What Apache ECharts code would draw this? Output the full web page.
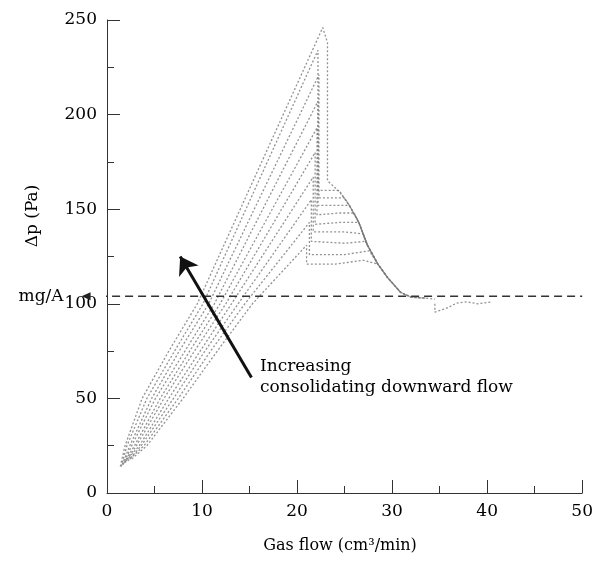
<!DOCTYPE html>
<html>
<head>
<meta charset="utf-8">
<script src="https://cdn.jsdelivr.net/npm/echarts@6/dist/echarts.min.js"></script>
<style>html,body{margin:0;padding:0;background:#fff}#c{width:596px;height:564px}</style>
</head>
<body>
<div id="c"></div>
<script>
// ---- data ----
var xTicks = [0, 10, 20, 30, 40, 50];
var yTicks = [0, 50, 100, 150, 200, 250];
var mgALine = [[-2.2, 104], [50, 104]]; // mg/A reference level (Pa)

var curve1 = [[2.6,18],[4.2,25],[8.0,50],[11.6,75],[15.3,100],[21.0,131],[21.0,121],[24.0,121],[27.0,123],[28.5,121],[29.5,114],[30.9,106],[32.0,103.5],[33.5,103]];
var curve2 = [[2.4,18],[3.9,25],[7.5,50],[10.9,75],[14.5,100],[21.3,143],[21.3,126],[25.0,126],[27.6,128],[28.5,121],[29.5,114],[30.9,106],[32.0,103.5],[33.5,103]];
var curve3 = [[2.2,17],[3.6,25],[7.0,50],[10.3,75],[13.8,100],[21.5,155],[21.5,133],[25.0,132],[27.2,133],[28.5,121],[29.5,114],[30.9,106],[32.0,103.5]];
var curve4 = [[2.0,17],[3.4,25],[6.5,50],[9.8,75],[13.1,100],[21.7,167],[21.7,138],[25.0,138],[26.9,137],[27.4,131],[28.5,121],[29.5,114],[30.9,106]];
var curve5 = [[1.9,16],[3.1,25],[6.0,50],[9.2,75],[12.5,100],[21.9,180],[21.9,142],[24.5,143],[26.5,143],[27.4,131],[28.5,121],[29.5,114]];
var curve6 = [[1.8,16],[2.9,25],[5.6,50],[8.7,75],[11.9,100],[22.1,193],[22.1,147],[24.5,148],[26.0,148],[26.5,143],[27.4,131],[28.5,121]];
var curve7 = [[1.7,15],[2.6,25],[5.1,50],[8.2,75],[11.3,100],[22.2,207],[22.2,152],[25.5,152],[26.5,143],[27.4,131],[28.5,121]];
var curve8 = [[1.6,15],[2.4,25],[4.7,50],[7.6,75],[10.7,100],[22.3,221],[22.3,156],[25.0,156],[25.5,152],[26.5,143],[27.4,131]];
var curve9 = [[1.5,14],[2.1,25],[4.2,50],[7.1,75],[10.1,100],[22.2,234],[22.2,160],[24.4,160],[25.5,152],[26.5,143],[27.4,131]];
var curve10 = [[1.4,14],[1.9,25],[3.7,50],[6.5,75],[9.5,100],[22.7,246],[23.2,238],[23.2,165],[24.5,159],[25.5,152],[26.5,143],[27.4,131],[28.5,121],[29.5,114],[30.9,106],[32.0,103.5],[33.5,103],[34.5,102.5]];
var tailDip = [[34.5,100],[34.5,95.6],[35.8,97.8],[36.8,100.4],[37.9,101],[39.0,100],[40.5,101]];

var arrowPts = [[15.2, 61], [7.7, 125]];
var annotation = ['Increasing', 'consolidating downward flow'];

var curves = [curve1, curve2, curve3, curve4, curve5, curve6, curve7, curve8, curve9, curve10, tailDip];

// ---- chart ----
var serif = '"DejaVu Serif", "Liberation Serif", serif';
var chart = echarts.init(document.getElementById('c'), null, {renderer: 'canvas'});

var series = curves.map(function (d) {
  return {
    type: 'line', data: d, showSymbol: false, silent: true, animation: false,
    lineStyle: {color: '#777', width: 1.3, type: [2, 2], opacity: 0.8}
  };
});

series.push({
  type: 'line', clip: false, silent: true, animation: false,
  data: [
    {value: mgALine[0], symbol: 'triangle', symbolRotate: 90, symbolSize: [8, 9],
     label: {show: true, position: 'left', distance: 18, formatter: 'mg/A',
             fontFamily: serif, fontSize: 17, color: '#000'}},
    {value: mgALine[1], symbol: 'none'}
  ],
  itemStyle: {color: '#222'},
  lineStyle: {color: '#333', width: 1.5, type: [8, 5]},
  markLine: {
    silent: true, animation: false,
    symbol: ['none', 'arrow'], symbolSize: 17,
    lineStyle: {color: '#111', width: 3, type: 'solid'},
    itemStyle: {color: '#111'},
    label: {show: false},
    data: [[{coord: arrowPts[0]}, {coord: arrowPts[1]}]]
  }
});

chart.setOption({
  animation: false,
  grid: {left: 107, right: 10, top: 20, bottom: 71, containLabel: false},
  xAxis: {
    type: 'value', min: 0, max: 50, interval: 10,
    axisLine: {lineStyle: {color: '#333', width: 1}},
    axisTick: {show: true, inside: true, length: 13, lineStyle: {color: '#333'}},
    minorTick: {show: true, splitNumber: 2, length: 7, lineStyle: {color: '#333'}},
    splitLine: {show: false},
    axisLabel: {fontFamily: serif, fontSize: 17, color: '#000', margin: 10,
      formatter: function (v) { return xTicks.indexOf(v) >= 0 ? String(v) : ''; }}
  },
  yAxis: {
    type: 'value', min: 0, max: 250, interval: 50,
    axisLine: {show: true, lineStyle: {color: '#333', width: 1}},
    axisTick: {show: true, inside: true, length: 13, lineStyle: {color: '#333'}},
    minorTick: {show: true, splitNumber: 2, length: 7, lineStyle: {color: '#333'}},
    splitLine: {show: false},
    axisLabel: {fontFamily: serif, fontSize: 17, color: '#000', margin: 10,
      formatter: function (v) { return yTicks.indexOf(v) >= 0 ? String(v) : ''; }}
  },
  graphic: [
    {type: 'text', x: 340, y: 546, style: {text: 'Gas flow (cm³/min)', font: '16px ' + serif, fill: '#000', align: 'center', verticalAlign: 'middle'}},
    {type: 'text', x: 33, y: 216, rotation: Math.PI / 2, style: {text: 'Δp (Pa)', font: '17px ' + serif, fill: '#000', align: 'center', verticalAlign: 'middle'}},
    {type: 'text', x: 260, y: 356, style: {text: annotation.join('\n'), font: '17px ' + serif, fill: '#000', lineHeight: 21}}
  ],
  series: series
});
</script>
</body>
</html>
